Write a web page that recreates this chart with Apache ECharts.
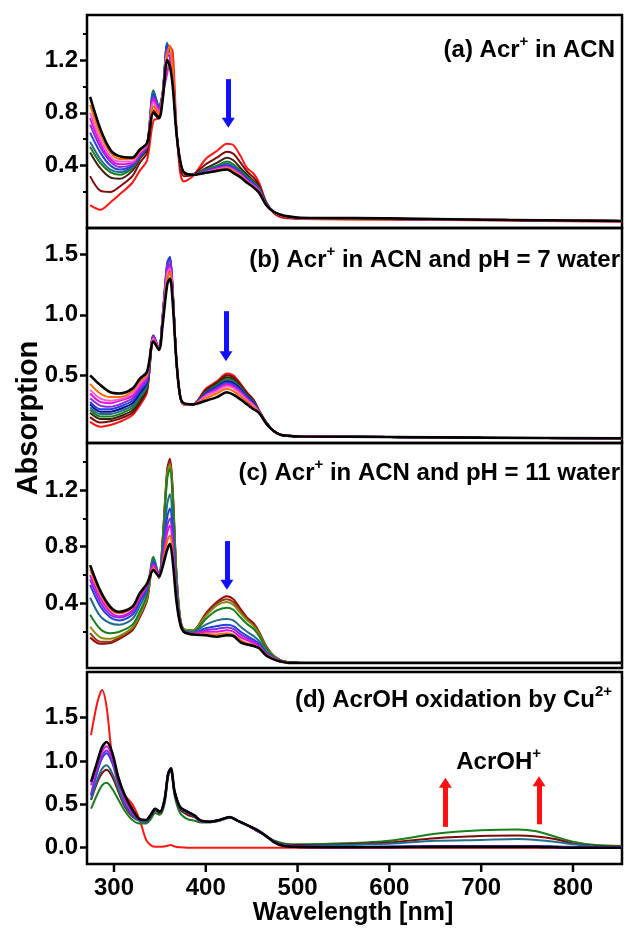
<!DOCTYPE html>
<html>
<head>
<meta charset="utf-8">
<title>Acr+ absorption spectra</title>
<script src="https://cdn.jsdelivr.net/npm/echarts@6/dist/echarts.min.js"></script>
<style>
  html, body { margin: 0; padding: 0; background: #fff; }
  #chart { width: 625px; height: 929px; }
</style>
</head>
<body>
<div id="chart"></div>
<script>
// wavelength grid (nm) used by panels a-c
const wlABC = [274, 285, 296, 306, 320, 328, 336, 343, 349, 353, 358, 361, 364, 368, 372, 376, 386, 400, 412, 423, 430, 438, 445, 452, 458, 466, 474, 481, 490, 503, 600, 700, 853];

// (a) Acr+ in ACN
const redA     = [0.10, 0.065, 0.12, 0.18, 0.27, 0.36, 0.44, 0.74, 0.76, 0.90, 1.25, 1.30, 1.26, 0.70, 0.35, 0.28, 0.32, 0.45, 0.51, 0.565, 0.555, 0.47, 0.38, 0.34, 0.27, 0.12, 0.04, 0.01, 0.0, -0.005, -0.01, -0.015, -0.025];
const maroonA  = [0.32, 0.21, 0.20, 0.24, 0.32, 0.42, 0.50, 0.82, 0.77, 0.92, 1.26, 1.25, 1.12, 0.67, 0.40, 0.32, 0.33, 0.41, 0.46, 0.505, 0.49, 0.42, 0.355, 0.31, 0.25, 0.12, 0.045, 0.02, 0.005, 0.0, -0.005, -0.01, -0.02];
const brownA   = [0.50, 0.38, 0.31, 0.30, 0.36, 0.45, 0.53, 0.90, 0.80, 0.94, 1.28, 1.22, 1.07, 0.66, 0.42, 0.34, 0.33, 0.38, 0.42, 0.46, 0.44, 0.38, 0.33, 0.285, 0.24, 0.115, 0.05, 0.025, 0.01, 0.0, -0.005, -0.01, -0.02];
const greenA   = [0.54, 0.42, 0.35, 0.33, 0.38, 0.46, 0.55, 0.97, 0.85, 0.95, 1.32, 1.22, 1.05, 0.66, 0.43, 0.35, 0.33, 0.37, 0.40, 0.43, 0.41, 0.36, 0.315, 0.275, 0.23, 0.11, 0.05, 0.025, 0.01, 0.0, -0.005, -0.01, -0.02];
const tealA    = [0.58, 0.45, 0.37, 0.35, 0.39, 0.47, 0.55, 0.96, 0.85, 0.95, 1.33, 1.22, 1.05, 0.66, 0.43, 0.35, 0.33, 0.365, 0.39, 0.415, 0.395, 0.35, 0.305, 0.27, 0.225, 0.11, 0.05, 0.025, 0.01, 0.0, -0.005, -0.01, -0.02];
const blueA    = [0.65, 0.50, 0.40, 0.37, 0.40, 0.47, 0.55, 0.94, 0.84, 0.95, 1.32, 1.22, 1.06, 0.66, 0.43, 0.35, 0.33, 0.36, 0.385, 0.405, 0.385, 0.345, 0.30, 0.265, 0.22, 0.11, 0.05, 0.025, 0.01, 0.0, -0.005, -0.01, -0.02];
const purpleA  = [0.71, 0.54, 0.43, 0.39, 0.41, 0.48, 0.55, 0.92, 0.83, 0.95, 1.28, 1.22, 1.08, 0.66, 0.43, 0.35, 0.33, 0.355, 0.38, 0.395, 0.375, 0.335, 0.29, 0.255, 0.215, 0.105, 0.05, 0.025, 0.01, 0.0, -0.005, -0.01, -0.02];
const magentaA = [0.76, 0.57, 0.45, 0.41, 0.42, 0.49, 0.56, 0.90, 0.82, 0.94, 1.10, 1.20, 1.10, 0.66, 0.43, 0.35, 0.33, 0.35, 0.375, 0.39, 0.37, 0.33, 0.285, 0.25, 0.21, 0.10, 0.05, 0.025, 0.01, 0.0, -0.005, -0.01, -0.02];
const pinkA    = [0.80, 0.60, 0.47, 0.43, 0.43, 0.50, 0.56, 0.88, 0.80, 0.93, 1.25, 1.25, 1.10, 0.66, 0.43, 0.35, 0.33, 0.35, 0.37, 0.385, 0.365, 0.325, 0.28, 0.245, 0.205, 0.10, 0.05, 0.025, 0.01, 0.0, -0.005, -0.01, -0.02];
const orangeA  = [0.86, 0.64, 0.50, 0.45, 0.45, 0.51, 0.57, 0.85, 0.79, 0.93, 1.25, 1.31, 1.15, 0.67, 0.43, 0.35, 0.33, 0.345, 0.365, 0.38, 0.36, 0.32, 0.275, 0.24, 0.20, 0.10, 0.05, 0.025, 0.01, 0.0, -0.005, -0.01, -0.02];
const blackA   = [0.92, 0.68, 0.52, 0.47, 0.46, 0.52, 0.57, 0.80, 0.76, 0.90, 1.20, 1.15, 1.00, 0.65, 0.44, 0.35, 0.33, 0.345, 0.36, 0.37, 0.345, 0.31, 0.27, 0.235, 0.195, 0.10, 0.05, 0.03, 0.015, 0.005, 0.0, -0.01, -0.02];

// (b) Acr+ in ACN and pH = 7 water
const redB     = [0.115, 0.075, 0.09, 0.115, 0.17, 0.25, 0.36, 0.80, 0.72, 0.95, 1.30, 1.35, 1.15, 0.62, 0.33, 0.26, 0.26, 0.39, 0.45, 0.515, 0.50, 0.43, 0.36, 0.30, 0.21, 0.11, 0.04, 0.01, 0.0, -0.005, -0.01, -0.015, -0.02];
const maroonB  = [0.155, 0.11, 0.12, 0.14, 0.19, 0.27, 0.38, 0.80, 0.72, 0.96, 1.32, 1.36, 1.16, 0.62, 0.33, 0.26, 0.26, 0.38, 0.44, 0.50, 0.485, 0.42, 0.35, 0.295, 0.21, 0.11, 0.04, 0.01, 0.0, -0.005, -0.01, -0.015, -0.02];
const brownB   = [0.19, 0.14, 0.14, 0.16, 0.21, 0.29, 0.39, 0.81, 0.72, 0.97, 1.34, 1.38, 1.17, 0.62, 0.33, 0.26, 0.26, 0.37, 0.43, 0.485, 0.47, 0.41, 0.345, 0.29, 0.21, 0.11, 0.04, 0.01, 0.0, -0.005, -0.01, -0.015, -0.02];
const greenB   = [0.215, 0.16, 0.16, 0.18, 0.23, 0.31, 0.41, 0.82, 0.72, 0.98, 1.36, 1.40, 1.18, 0.62, 0.33, 0.26, 0.26, 0.36, 0.42, 0.47, 0.455, 0.40, 0.335, 0.28, 0.205, 0.11, 0.04, 0.01, 0.0, -0.005, -0.01, -0.015, -0.02];
const tealB    = [0.235, 0.18, 0.18, 0.20, 0.25, 0.33, 0.42, 0.82, 0.72, 0.98, 1.38, 1.42, 1.18, 0.62, 0.33, 0.26, 0.26, 0.355, 0.41, 0.46, 0.445, 0.39, 0.33, 0.275, 0.20, 0.11, 0.04, 0.01, 0.0, -0.005, -0.01, -0.015, -0.02];
const navyB    = [0.26, 0.20, 0.20, 0.22, 0.27, 0.35, 0.44, 0.83, 0.72, 0.99, 1.42, 1.47, 1.20, 0.62, 0.33, 0.26, 0.26, 0.35, 0.405, 0.45, 0.435, 0.385, 0.325, 0.27, 0.20, 0.105, 0.04, 0.01, 0.0, -0.005, -0.01, -0.015, -0.02];
const blueB    = [0.28, 0.22, 0.22, 0.24, 0.29, 0.37, 0.45, 0.83, 0.72, 1.00, 1.43, 1.48, 1.20, 0.62, 0.33, 0.26, 0.26, 0.345, 0.40, 0.44, 0.425, 0.375, 0.32, 0.265, 0.20, 0.105, 0.04, 0.01, 0.0, -0.005, -0.01, -0.015, -0.02];
const purpleB  = [0.31, 0.25, 0.24, 0.26, 0.31, 0.39, 0.47, 0.82, 0.72, 0.99, 1.40, 1.45, 1.18, 0.62, 0.33, 0.26, 0.26, 0.34, 0.39, 0.43, 0.415, 0.365, 0.31, 0.26, 0.20, 0.105, 0.04, 0.01, 0.0, -0.005, -0.01, -0.015, -0.02];
const magentaB = [0.35, 0.28, 0.27, 0.29, 0.33, 0.41, 0.49, 0.81, 0.72, 0.97, 1.36, 1.40, 1.16, 0.62, 0.33, 0.26, 0.26, 0.335, 0.38, 0.42, 0.405, 0.355, 0.30, 0.255, 0.20, 0.10, 0.04, 0.01, 0.0, -0.005, -0.01, -0.015, -0.02];
const pinkB    = [0.38, 0.31, 0.29, 0.30, 0.35, 0.43, 0.50, 0.80, 0.72, 0.96, 1.34, 1.38, 1.15, 0.62, 0.33, 0.26, 0.26, 0.33, 0.37, 0.41, 0.395, 0.345, 0.295, 0.25, 0.195, 0.10, 0.04, 0.01, 0.0, -0.005, -0.01, -0.015, -0.02];
const orangeB  = [0.43, 0.35, 0.32, 0.32, 0.37, 0.45, 0.51, 0.79, 0.71, 0.94, 1.30, 1.35, 1.13, 0.62, 0.33, 0.26, 0.26, 0.31, 0.35, 0.39, 0.37, 0.325, 0.28, 0.235, 0.195, 0.10, 0.04, 0.01, 0.0, -0.005, -0.01, -0.015, -0.02];
const blackB   = [0.50, 0.42, 0.36, 0.35, 0.39, 0.47, 0.53, 0.78, 0.71, 0.92, 1.25, 1.30, 1.10, 0.62, 0.33, 0.27, 0.26, 0.29, 0.32, 0.36, 0.34, 0.30, 0.26, 0.22, 0.19, 0.10, 0.04, 0.01, 0.0, -0.005, -0.01, -0.015, -0.02];

// (c) Acr+ in ACN and pH = 11 water
const darkredC = [0.16, 0.115, 0.12, 0.15, 0.21, 0.30, 0.42, 0.68, 0.58, 0.85, 1.35, 1.42, 1.20, 0.62, 0.30, 0.22, 0.21, 0.33, 0.41, 0.45, 0.43, 0.36, 0.30, 0.26, 0.20, 0.095, 0.03, 0.0, -0.015, -0.02, -0.02, -0.02, -0.02];
const brownC   = [0.19, 0.13, 0.13, 0.16, 0.22, 0.31, 0.43, 0.69, 0.58, 0.85, 1.33, 1.40, 1.18, 0.61, 0.30, 0.22, 0.21, 0.32, 0.40, 0.43, 0.41, 0.345, 0.29, 0.25, 0.19, 0.09, 0.03, 0.0, -0.015, -0.02, -0.02, -0.02, -0.02];
const oliveC   = [0.235, 0.16, 0.15, 0.17, 0.23, 0.32, 0.44, 0.70, 0.58, 0.84, 1.31, 1.38, 1.16, 0.60, 0.30, 0.22, 0.21, 0.31, 0.385, 0.41, 0.39, 0.33, 0.28, 0.24, 0.185, 0.085, 0.03, 0.0, -0.015, -0.02, -0.02, -0.02, -0.02];
const greenC   = [0.32, 0.22, 0.19, 0.20, 0.25, 0.34, 0.46, 0.73, 0.60, 0.83, 1.28, 1.35, 1.13, 0.58, 0.29, 0.21, 0.20, 0.29, 0.35, 0.37, 0.355, 0.30, 0.255, 0.22, 0.17, 0.08, 0.025, 0.0, -0.015, -0.02, -0.02, -0.02, -0.02];
const tealC    = [0.44, 0.31, 0.26, 0.25, 0.29, 0.38, 0.49, 0.71, 0.60, 0.77, 1.10, 1.17, 0.98, 0.52, 0.28, 0.21, 0.20, 0.25, 0.28, 0.29, 0.28, 0.235, 0.20, 0.17, 0.135, 0.06, 0.02, -0.005, -0.015, -0.02, -0.02, -0.02, -0.02];
const blueC    = [0.53, 0.38, 0.30, 0.28, 0.32, 0.41, 0.51, 0.69, 0.60, 0.74, 1.01, 1.07, 0.90, 0.49, 0.27, 0.20, 0.19, 0.225, 0.24, 0.25, 0.24, 0.20, 0.17, 0.145, 0.115, 0.05, 0.015, -0.005, -0.015, -0.02, -0.02, -0.02, -0.02];
const purpleC  = [0.57, 0.41, 0.32, 0.30, 0.34, 0.43, 0.52, 0.68, 0.60, 0.72, 0.95, 1.00, 0.84, 0.46, 0.27, 0.20, 0.19, 0.21, 0.22, 0.23, 0.22, 0.18, 0.155, 0.13, 0.105, 0.045, 0.015, -0.005, -0.015, -0.02, -0.02, -0.02, -0.02];
const magentaC = [0.60, 0.44, 0.34, 0.31, 0.35, 0.44, 0.53, 0.67, 0.60, 0.70, 0.90, 0.95, 0.80, 0.45, 0.26, 0.20, 0.185, 0.20, 0.20, 0.21, 0.20, 0.16, 0.14, 0.12, 0.10, 0.04, 0.01, -0.01, -0.015, -0.02, -0.02, -0.02, -0.02];
const orangeC  = [0.64, 0.47, 0.36, 0.33, 0.37, 0.46, 0.54, 0.65, 0.59, 0.68, 0.84, 0.88, 0.74, 0.43, 0.26, 0.20, 0.18, 0.185, 0.18, 0.19, 0.18, 0.14, 0.12, 0.105, 0.09, 0.035, 0.01, -0.01, -0.015, -0.02, -0.02, -0.02, -0.02];
const blackC   = [0.67, 0.49, 0.376, 0.34, 0.376, 0.47, 0.54, 0.635, 0.59, 0.66, 0.78, 0.82, 0.70, 0.42, 0.26, 0.20, 0.18, 0.175, 0.165, 0.175, 0.17, 0.125, 0.11, 0.10, 0.085, 0.03, 0.005, -0.01, -0.02, -0.02, -0.02, -0.02, -0.02];

// (d) AcrOH oxidation by Cu2+
const wlD = [275, 282, 287, 292, 298, 305, 312, 320, 328, 335, 340, 345, 350, 355, 359, 362, 366, 372, 380, 388, 395, 405, 415, 426, 435, 445, 455, 465, 475, 485, 500, 550, 600, 650, 700, 740, 760, 780, 800, 825, 853];
const redD     = [1.30, 1.68, 1.82, 1.62, 1.05, 0.72, 0.60, 0.50, 0.32, 0.09, 0.03, 0.01, 0.01, 0.015, 0.025, 0.03, 0.015, 0.005, 0.0, 0.0, 0.0, 0.0, 0.0, 0.0, 0.0, 0.0, 0.0, 0.0, 0.0, 0.0, 0.0, 0.0, 0.0, 0.0, 0.0, 0.0, 0.0, 0.0, 0.0, 0.0, 0.0];
const greenD   = [0.45, 0.62, 0.72, 0.75, 0.68, 0.55, 0.42, 0.32, 0.28, 0.28, 0.33, 0.40, 0.38, 0.50, 0.82, 0.89, 0.60, 0.40, 0.33, 0.31, 0.29, 0.29, 0.31, 0.345, 0.31, 0.26, 0.20, 0.14, 0.08, 0.05, 0.04, 0.05, 0.08, 0.16, 0.20, 0.21, 0.19, 0.13, 0.07, 0.03, 0.02];
const brownD   = [0.55, 0.76, 0.86, 0.90, 0.82, 0.64, 0.47, 0.36, 0.31, 0.30, 0.36, 0.43, 0.40, 0.53, 0.85, 0.90, 0.63, 0.44, 0.38, 0.35, 0.30, 0.30, 0.315, 0.35, 0.31, 0.26, 0.20, 0.14, 0.07, 0.04, 0.03, 0.04, 0.06, 0.11, 0.135, 0.14, 0.13, 0.10, 0.05, 0.02, 0.015];
const tealD    = [0.56, 0.79, 0.91, 0.95, 0.86, 0.67, 0.49, 0.37, 0.31, 0.30, 0.37, 0.44, 0.41, 0.54, 0.86, 0.91, 0.64, 0.45, 0.40, 0.36, 0.30, 0.30, 0.315, 0.35, 0.31, 0.26, 0.20, 0.14, 0.07, 0.035, 0.02, 0.03, 0.045, 0.08, 0.09, 0.10, 0.09, 0.07, 0.04, 0.015, 0.01];
const blueD    = [0.60, 0.88, 1.03, 1.09, 0.98, 0.76, 0.53, 0.39, 0.32, 0.31, 0.37, 0.44, 0.41, 0.54, 0.86, 0.91, 0.64, 0.46, 0.41, 0.365, 0.30, 0.30, 0.32, 0.355, 0.31, 0.26, 0.20, 0.14, 0.065, 0.025, 0.01, 0.01, 0.015, 0.02, 0.02, 0.02, 0.02, 0.015, 0.01, 0.005, 0.0];
const purpleD  = [0.62, 0.91, 1.06, 1.12, 1.01, 0.78, 0.54, 0.40, 0.32, 0.31, 0.38, 0.45, 0.415, 0.55, 0.86, 0.915, 0.65, 0.47, 0.415, 0.37, 0.30, 0.30, 0.32, 0.355, 0.31, 0.26, 0.20, 0.14, 0.065, 0.025, 0.01, 0.005, 0.01, 0.015, 0.015, 0.015, 0.015, 0.01, 0.005, 0.0, 0.0];
const magentaD = [0.72, 0.97, 1.11, 1.17, 1.05, 0.81, 0.56, 0.41, 0.33, 0.32, 0.38, 0.45, 0.415, 0.55, 0.86, 0.915, 0.65, 0.47, 0.415, 0.37, 0.30, 0.30, 0.32, 0.355, 0.31, 0.26, 0.20, 0.14, 0.06, 0.02, 0.01, 0.005, 0.005, 0.01, 0.01, 0.01, 0.01, 0.005, 0.0, 0.0, 0.0];
const blackD   = [0.76, 1.00, 1.16, 1.22, 1.10, 0.80, 0.60, 0.44, 0.33, 0.32, 0.38, 0.45, 0.415, 0.55, 0.85, 0.915, 0.65, 0.47, 0.415, 0.37, 0.31, 0.30, 0.32, 0.355, 0.31, 0.26, 0.21, 0.14, 0.06, 0.02, 0.01, 0.005, 0.005, 0.01, 0.01, 0.01, 0.01, 0.005, 0.0, 0.0, 0.0];

// tick labels
const xTicks = [300, 400, 500, 600, 700, 800];
const yTicksA = [0.4, 0.8, 1.2];
const yTicksB = [0.5, 1.0, 1.5];
const yTicksC = [0.4, 0.8, 1.2];
const yTicksD = [0.0, 0.5, 1.0, 1.5];
const yMinorA = [0.2, 0.6, 1.0, 1.4];
const yMinorC = [0.2, 0.6, 1.0, 1.4];

const C = {
  red: '#ff1414', maroon: '#7d0a0a', brown: '#3c2210', green: '#17801a', teal: '#1f6e8c',
  navy: '#0a0a8c', blue: '#2040e0', purple: '#8a2be2', magenta: '#e312e3', pink: '#ff5cc8',
  orange: '#ff6a00', black: '#000000', darkred: '#a00000', olive: '#8a8a10', brownred: '#8b3a1a'
};

const panels = [
  {
    top: 15, height: 213, min: -0.073, max: 1.541, ticks: yTicksA, minor: yMinorA, wl: wlABC,
    curves: [[redA, C.red], [maroonA, C.maroon], [brownA, C.brown], [greenA, C.green], [tealA, C.teal],
             [blueA, C.blue], [purpleA, C.purple], [magentaA, C.magenta], [pinkA, C.pink], [orangeA, C.orange], [blackA, C.black]],
    arrow: { color: '#1010ff', x: 424.5, from: 1.055, to: 0.724 }
  },
  {
    top: 228, height: 215, min: -0.059, max: 1.717, ticks: yTicksB, minor: [], wl: wlABC,
    curves: [[redB, C.red], [maroonB, C.maroon], [brownB, C.brown], [greenB, C.green], [tealB, C.teal], [navyB, C.navy],
             [blueB, C.blue], [purpleB, C.purple], [magentaB, C.magenta], [pinkB, C.pink], [orangeB, C.orange], [blackB, C.black]],
    arrow: { color: '#1010ff', x: 422, from: 1.03, to: 0.657 }
  },
  {
    top: 443, height: 225, min: -0.056, max: 1.532, ticks: yTicksC, minor: yMinorC, wl: wlABC,
    curves: [[darkredC, C.darkred], [brownC, C.brownred], [oliveC, C.olive], [greenC, C.green], [tealC, C.teal],
             [blueC, C.blue], [purpleC, C.purple], [magentaC, C.magenta], [orangeC, C.orange], [blackC, C.black]],
    arrow: { color: '#1010ff', x: 423, from: 0.84, to: 0.532 }
  },
  {
    top: 672, height: 192, min: -0.188, max: 2.027, ticks: yTicksD, minor: [], wl: wlD,
    curves: [[redD, C.red], [greenD, C.green], [brownD, C.maroon], [tealD, C.teal], [blueD, C.blue],
             [purpleD, C.purple], [magentaD, C.magenta], [blackD, C.black]],
    arrows: [{ color: '#ff1010', x: 661, from: 0.24, to: 0.748 }, { color: '#ff1010', x: 763, from: 0.27, to: 0.768 }]
  }
];

const FONT = 'Liberation Sans, Arial, sans-serif';
const X_MIN = 270.6, X_MAX = 853.4;
const grid = [], xAxis = [], yAxis = [], series = [];

panels.forEach((p, i) => {
  const last = i === panels.length - 1;
  grid.push({
    left: 87, width: 535, top: p.top, height: p.height,
    show: true, borderColor: '#000', borderWidth: 2.5, backgroundColor: 'transparent',
    outerBoundsMode: 'none'
  });
  xAxis.push({
    type: 'value', gridIndex: i, min: X_MIN, max: X_MAX, position: 'bottom',
    axisLine: { show: false, onZero: false }, splitLine: { show: false },
    axisTick: { show: false },
    axisLabel: last ? {
      show: true, customValues: xTicks, margin: 12, color: '#000',
      fontSize: 24, fontWeight: 'bold', fontFamily: FONT
    } : { show: false }
  });
  // main y axis with labelled ticks
  yAxis.push({
    type: 'value', gridIndex: i, min: p.min, max: p.max, position: 'left',
    axisLine: { show: false, onZero: false }, splitLine: { show: false },
    axisTick: { show: true, customValues: p.ticks, length: 7, lineStyle: { color: '#000', width: 2.5 } },
    axisLabel: {
      customValues: p.ticks, margin: 9, color: '#000',
      fontSize: 24, fontWeight: 'bold', fontFamily: FONT,
      formatter: v => v.toFixed(1)
    }
  });
  // minor ticks only
  yAxis.push({
    type: 'value', gridIndex: i, min: p.min, max: p.max, position: 'left', offset: 0,
    axisLine: { show: false, onZero: false }, splitLine: { show: false }, axisLabel: { show: false },
    axisTick: { show: p.minor.length > 0, customValues: p.minor, length: 4, lineStyle: { color: '#000', width: 2 } }
  });

  const arrows = p.arrows || [p.arrow];
  p.curves.forEach(([vals, color], k) => {
    const s = {
      type: 'line', xAxisIndex: i, yAxisIndex: 2 * i,
      data: p.wl.map((w, j) => [w, vals[j]]),
      showSymbol: false, smooth: 0.3, silent: true, animation: false,
      lineStyle: { color, width: color === C.black ? 2.6 : 2 },
      itemStyle: { color },
      z: 2 + k
    };
    if (k === 0) {
      s.markLine = {
        silent: true, animation: false,
        symbol: ['none', 'triangle'], symbolSize: [13, 10],
        label: { show: false },
        lineStyle: { width: 5, type: 'solid' },
        data: arrows.map(a => [
          { coord: [a.x, a.from], lineStyle: { color: a.color }, itemStyle: { color: a.color } },
          { coord: [a.x, a.to], lineStyle: { color: a.color }, itemStyle: { color: a.color } }
        ])
      };
    }
    series.push(s);
  });
});

// thin strip under the bottom panel holding the outward wavelength ticks
const lastPanel = panels[panels.length - 1];
const stripIdx = panels.length;
grid.push({ left: 87, width: 535, top: lastPanel.top + lastPanel.height + 1, height: 7, show: false, outerBoundsMode: 'none' });
xAxis.push({
  type: 'value', gridIndex: stripIdx, min: X_MIN, max: X_MAX,
  axisLine: { show: false }, axisTick: { show: false }, axisLabel: { show: false }, splitLine: { show: false }
});
yAxis.push({
  type: 'value', gridIndex: stripIdx, min: 0, max: 1,
  axisLine: { show: false }, axisTick: { show: false }, axisLabel: { show: false }, splitLine: { show: false }
});
series.push({
  type: 'bar', xAxisIndex: stripIdx, yAxisIndex: yAxis.length - 1,
  data: xTicks.map(v => [v, 1]),
  barWidth: 2.5, itemStyle: { color: '#000' }, silent: true, animation: false
});

const nRich = { fontSize: 24, fontWeight: 'bold', fontFamily: FONT, lineHeight: 32, fill: '#000' };
const sRich = { fontSize: 15, fontWeight: 'bold', fontFamily: FONT, lineHeight: 15, verticalAlign: 'top', fill: '#000' };
function label(x, y, text) {
  return {
    type: 'text', x, y, silent: true, z: 100,
    style: { text, align: 'right', verticalAlign: 'middle', rich: { n: nRich, s: sRich } }
  };
}

const chart = echarts.init(document.getElementById('chart'), null, { renderer: 'canvas' });
chart.setOption({
  animation: false,
  backgroundColor: '#fff',
  textStyle: { fontFamily: FONT },
  grid, xAxis, yAxis, series,
  graphic: [
    label(615, 50, '{n|(a) Acr}{s|+}{n| in ACN}'),
    label(620, 260, '{n|(b) Acr}{s|+}{n| in ACN and pH = 7 water}'),
    label(620, 473, '{n|(c) Acr}{s|+}{n| in ACN and pH = 11 water}'),
    label(612, 700, '{n|(d) AcrOH oxidation by Cu}{s|2+}'),
    label(541, 762, '{n|AcrOH}{s|+}'),
    {
      type: 'text', x: 29, y: 418, rotation: Math.PI / 2, silent: true,
      style: { text: 'Absorption', align: 'center', verticalAlign: 'middle', fontSize: 29, fontWeight: 'bold', fontFamily: FONT, fill: '#000' }
    },
    {
      type: 'text', x: 353, y: 913, silent: true,
      style: { text: 'Wavelength [nm]', align: 'center', verticalAlign: 'middle', fontSize: 25, fontWeight: 'bold', fontFamily: FONT, fill: '#000' }
    }
  ]
});
</script>
</body>
</html>
